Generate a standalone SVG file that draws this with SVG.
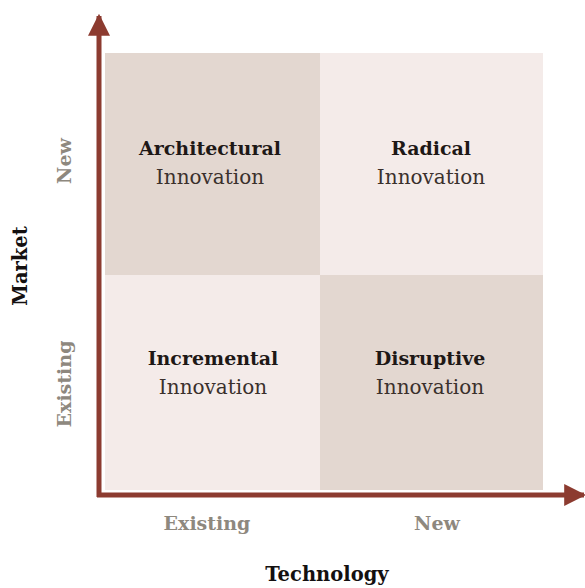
<svg xmlns="http://www.w3.org/2000/svg" width="585" height="588" viewBox="0 0 585 588">
<style>
.dark{fill:#e3d7d0}
.light{fill:#f4ebe9}
.t{font-family:"DejaVu Serif","Liberation Serif",serif;text-anchor:middle;fill:#2a2220}
.b{font-weight:bold;font-size:19px;fill:#1e1816}
.r{font-size:20px;fill:#3a302c}
.ax{font-family:"DejaVu Serif","Liberation Serif",serif;text-anchor:middle;font-size:19px;font-weight:bold;fill:#8e887e}
.title{font-family:"DejaVu Serif","Liberation Serif",serif;text-anchor:middle;font-size:19.5px;font-weight:bold;fill:#141010}
.axis{stroke:#8c3b30;stroke-width:5;fill:none}
</style>
<defs>
<marker id="arr" viewBox="0 0 10 10" refX="9" refY="5" markerWidth="4.4" markerHeight="4.4" orient="auto" markerUnits="strokeWidth">
<path d="M0,0 L10,5 L0,10 z" fill="#8c3b30"/>
</marker>
</defs>
<g id="q-architectural">
<rect class="dark" x="105" y="53" width="215" height="222"/>
<text class="t b" x="210" y="155">Architectural</text>
<text class="t r" x="210" y="184">Innovation</text>
</g>
<g id="q-radical">
<rect class="light" x="320" y="53" width="223" height="222"/>
<text class="t b" x="431" y="155">Radical</text>
<text class="t r" x="431" y="184">Innovation</text>
</g>
<g id="q-incremental">
<rect class="light" x="105" y="275" width="215" height="215"/>
<text class="t b" x="213" y="365">Incremental</text>
<text class="t r" x="213" y="394">Innovation</text>
</g>
<g id="q-disruptive">
<rect class="dark" x="320" y="275" width="223" height="215"/>
<text class="t b" x="430" y="365">Disruptive</text>
<text class="t r" x="430" y="394">Innovation</text>
</g>
<g id="connectors">
<line class="axis" x1="99" y1="497" x2="99" y2="16" marker-end="url(#arr)"/>
<line class="axis" x1="97" y1="495" x2="584" y2="495" marker-end="url(#arr)"/>
</g>
<g id="labels">
<text class="ax" x="207" y="530">Existing</text>
<text class="ax" x="437" y="530">New</text>
<text class="title" x="327" y="581">Technology</text>
<text class="title" transform="translate(27,266) rotate(-90)">Market</text>
<text class="ax" transform="translate(71,161) rotate(-90)">New</text>
<text class="ax" transform="translate(71,384) rotate(-90)">Existing</text>
</g>
</svg>
